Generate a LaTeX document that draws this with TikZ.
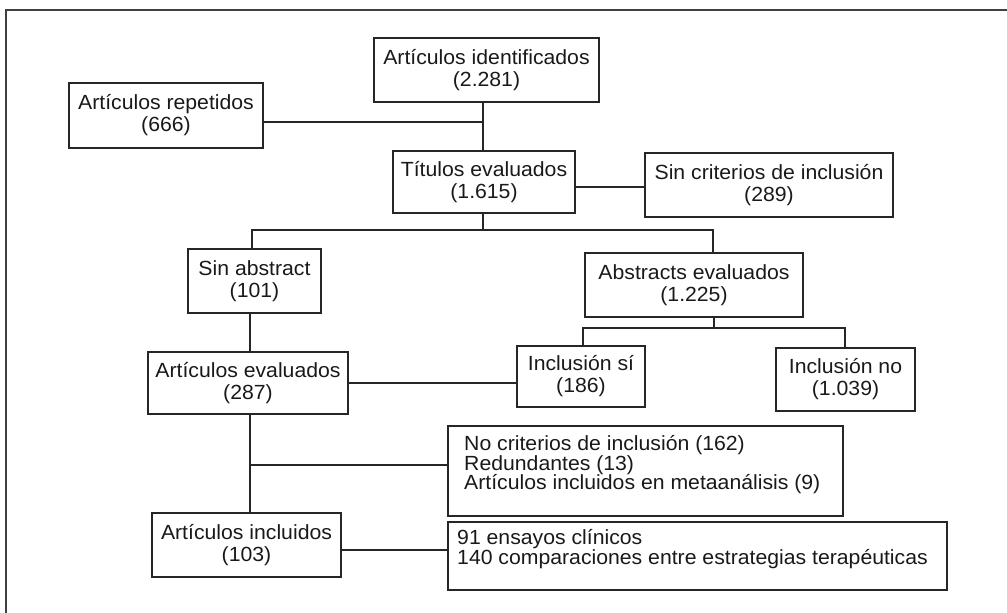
\documentclass[tikz,border=0pt]{standalone}
\usepackage{fontspec}
\setmainfont{Liberation Sans}[FakeStretch=1.035]
\begin{document}
\begin{tikzpicture}[x=1pt,y=-1pt,
  box/.style={draw=black!85, line width=1.5pt, inner sep=0pt, align=center,
    font=\fontsize{20.5}{22}\selectfont, text=black!90},
  listtxt/.style={inner sep=0pt, align=left, font=\fontsize{20.5}{19.5}\selectfont, text=black!90},
  conn/.style={draw=black!85, line width=1.3pt},
  frame/.style={draw=black!75, line width=1.6pt}]
\useasboundingbox (0,0) rectangle (1007,613);
% outer frame (top and left edges)
\coordinate (fl) at (6,613);
\coordinate (fc) at (6,10);
\coordinate (fr) at (1010,10);
\draw[frame] (fl) -- (fc) -- (fr);
% boxes
\node[box, minimum width=225pt, minimum height=64pt] (ident) at (486.5,70) {Artículos identificados\\(2.281)};
\node[box, minimum width=194pt, minimum height=65pt] (repet) at (166,115.5) {Artículos repetidos\\(666)};
\node[box, minimum width=182pt, minimum height=62pt] (tit) at (484,182) {Títulos evaluados\\(1.615)};
\node[box, minimum width=248pt, minimum height=64pt] (sincrit) at (769,185) {Sin criterios de inclusión\\(289)};
\node[box, minimum width=133pt, minimum height=64pt] (sinabs) at (254.5,281) {Sin abstract\\(101)};
\node[box, minimum width=218pt, minimum height=64pt] (abseval) at (694,285) {Abstracts evaluados\\(1.225)};
\node[box, minimum width=128pt, minimum height=61pt] (incsi) at (581,376.5) {Inclusión sí\\(186)};
\node[box, minimum width=139pt, minimum height=63pt] (incno) at (845.5,379.5) {Inclusión no\\(1.039)};
\node[box, minimum width=200pt, minimum height=62pt] (arteval) at (248,383) {Artículos evaluados\\(287)};
\node[box, minimum width=395pt, minimum height=90pt] (nocrit) at (645.5,471) {};
\node[listtxt, anchor=north west] (nocrittxt) at (464,435.5) {No criterios de inclusión (162)\\Redundantes (13)\\Artículos incluidos en metaanálisis (9)};
\node[box, minimum width=189pt, minimum height=64pt] (artinc) at (246.5,545) {Artículos incluidos\\(103)};
\node[box, minimum width=499pt, minimum height=68pt] (ens) at (697.5,556) {};
\node[listtxt, anchor=north west] (enstxt) at (457,529.5) {91 ensayos clínicos\\140 comparaciones entre estrategias terapéuticas};
% junction coordinates
\coordinate (j1) at (483,122);
\coordinate (j2) at (610,187);
\coordinate (j3) at (483,230);
\coordinate (j3l) at (252,230);
\coordinate (j3r) at (713,230);
\coordinate (j4) at (714,328);
\coordinate (j4l) at (583,328);
\coordinate (j4r) at (845,328);
\coordinate (j5) at (250,383);
\coordinate (j6) at (250,465);
\coordinate (j7) at (400,550);
% connectors
\draw[conn] (ident.south -| j1) -- (tit.north -| j1);
\draw[conn] (repet.east |- j1) -- (j1);
\draw[conn] (tit.east |- j2) -- (sincrit.west |- j2);
\draw[conn] (tit.south -| j3) -- (j3);
\draw[conn] (sinabs.north -| j3l) -- (j3l) -- (j3r) -- (abseval.north -| j3r);
\draw[conn] (abseval.south -| j4) -- (j4);
\draw[conn] (incsi.north -| j4l) -- (j4l) -- (j4r) -- (incno.north -| j4r);
\draw[conn] (sinabs.south -| j5) -- (arteval.north -| j5);
\draw[conn] (arteval.east |- j5) -- (incsi.west |- j5);
\draw[conn] (arteval.south -| j6) -- (artinc.north -| j6);
\draw[conn] (j6) -- (nocrit.west |- j6);
\draw[conn] (artinc.east |- j7) -- (ens.west |- j7);
\end{tikzpicture}
\end{document}
